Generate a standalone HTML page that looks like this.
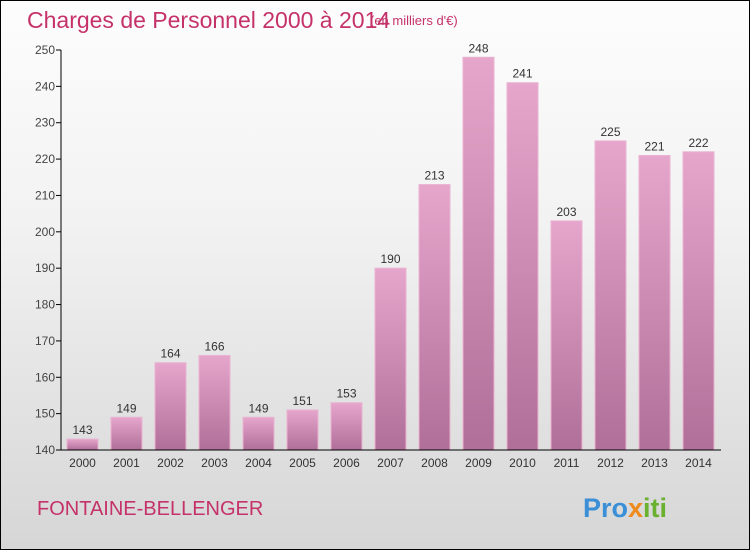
<!DOCTYPE html>
<html><head><meta charset="utf-8"><style>
body{margin:0}
#wrap{position:relative;width:748px;height:548px;border:1px solid #000;background:linear-gradient(#fdfdfd,#f2f2f2 40%,#d6d6d6);overflow:hidden;font-family:"Liberation Sans",sans-serif}
</style></head><body>
<div id="wrap">
<svg id="chart" width="748" height="548">
<defs><linearGradient id="g" x1="0" y1="0" x2="0" y2="1"><stop offset="0" stop-color="#e6a6cc"/><stop offset="1" stop-color="#b06f98"/></linearGradient></defs>
<text x="26" y="27" font-size="23" fill="#c5326a">Charges de Personnel 2000 à 2014</text>
<text x="369" y="24" font-size="13" fill="#c5326a">(en milliers d'€)</text>
<text x="36" y="514" font-size="20" fill="#c5326a">FONTAINE-BELLENGER</text>
<text x="582" y="516" font-size="27" font-weight="bold"><tspan fill="#3a8fd6">Pro</tspan><tspan fill="#f08a1c">x</tspan><tspan fill="#6bb130">iti</tspan></text>
<g id="plot"></g>
</svg>
</div>
<script>
const categories=["2000","2001","2002","2003","2004","2005","2006","2007","2008","2009","2010","2011","2012","2013","2014"];
const values=[143,149,164,166,149,151,153,190,213,248,241,203,225,221,222];
const yTicks=[140,150,160,170,180,190,200,210,220,230,240,250];
const NS="http://www.w3.org/2000/svg";
const g=document.getElementById('plot');
const y0=449,y1=49,vmin=140,vmax=250;
const y=v=>y0-(v-vmin)*(y0-y1)/(vmax-vmin);
const x=i=>81.5+i*44;
function mk(t,a,txt){const e=document.createElementNS(NS,t);for(const k in a)e.setAttribute(k,a[k]);if(txt!=null)e.textContent=txt;g.appendChild(e);return e;}
yTicks.forEach(t=>{
const l=mk('line',{x1:55,x2:60,y1:y(t),y2:y(t),stroke:'#000'});


const tx=mk('text',{x:54,y:y(t)+4,'text-anchor':'end','font-size':12,fill:'#444'},t);


});
categories.forEach((c,i)=>{
const v=values[i];
const r=mk('rect',{x:x(i)-15.5,y:y(v),width:31,height:y0-y(v),fill:'url(#g)',stroke:'#e9b3d2','stroke-width':1});


const lb=mk('text',{x:x(i),y:y(v)-5,'text-anchor':'middle','font-size':12,fill:'#333'},v);


const xl=mk('text',{x:x(i),y:466,'text-anchor':'middle','font-size':12,fill:'#333'},c);


});
const ax=mk('line',{x1:60,x2:60,y1:49,y2:y0,stroke:'#000'});


const bx=mk('line',{x1:60,x2:720,y1:y0,y2:y0,stroke:'#000'});


</script>
</body></html>
